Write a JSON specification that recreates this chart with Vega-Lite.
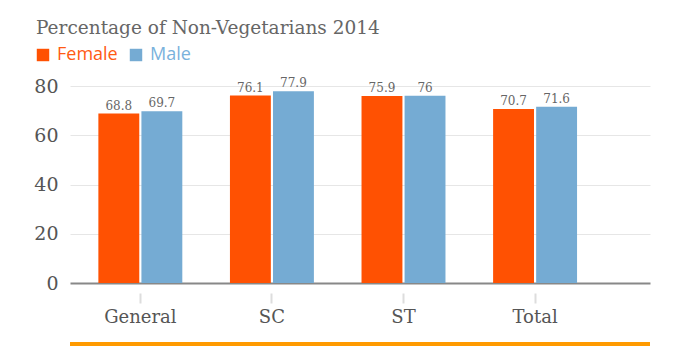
{
  "$schema": "https://vega.github.io/schema/vega-lite/v6.json",
  "width": 580,
  "height": 197,
  "autosize": {"type": "none"},
  "padding": {"left": 70, "top": 86, "right": 49, "bottom": 63},
  "background": "white",
  "config": {"view": {"stroke": null}},
  "title": {
    "text": "Percentage of Non-Vegetarians 2014",
    "anchor": "start",
    "frame": "group",
    "dx": -34,
    "dy": 16,
    "font": "DejaVu Serif",
    "fontSize": 18.5,
    "fontWeight": "normal",
    "color": "#666666",
    "baseline": "alphabetic",
    "offset": 10
  },
  "data": {
    "values": [
      {"category": "General", "gender": "Female", "value": 68.8},
      {"category": "General", "gender": "Male", "value": 69.7},
      {"category": "SC", "gender": "Female", "value": 76.1},
      {"category": "SC", "gender": "Male", "value": 77.9},
      {"category": "ST", "gender": "Female", "value": 75.9},
      {"category": "ST", "gender": "Male", "value": 76},
      {"category": "Total", "gender": "Female", "value": 70.7},
      {"category": "Total", "gender": "Male", "value": 71.6}
    ]
  },
  "encoding": {
    "x": {
      "field": "category",
      "type": "nominal",
      "sort": ["General", "SC", "ST", "Total"],
      "scale": {"paddingInner": 0.362, "paddingOuter": 0.385, "align": 0.28},
      "axis": {
        "title": null,
        "labelAngle": 0,
        "labelFont": "DejaVu Serif",
        "labelFontSize": 18,
        "labelColor": "#555555",
        "labelPadding": 5,
        "domain": false,
        "offset": 10,
        "tickSize": 10,
        "tickColor": "#dddddd",
        "tickWidth": 2,
        "grid": false
      }
    },
    "xOffset": {
      "field": "gender",
      "type": "nominal",
      "sort": ["Female", "Male"],
      "scale": {"paddingInner": 0.05}
    },
    "y": {
      "field": "value",
      "type": "quantitative",
      "scale": {"domain": [0, 80]},
      "axis": {
        "title": null,
        "values": [0, 20, 40, 60, 80],
        "labelFont": "DejaVu Serif",
        "labelFontSize": 19,
        "labelColor": "#555555",
        "labelPadding": 12,
        "ticks": false,
        "domain": false,
        "gridColor": {"condition": {"test": "datum.value === 0", "value": "#888888"}, "value": "#e6e6e6"},
        "gridWidth": {"condition": {"test": "datum.value === 0", "value": 2}, "value": 1}
      }
    }
  },
  "layer": [
    {
      "mark": {"type": "bar"},
      "encoding": {
        "color": {
          "field": "gender",
          "type": "nominal",
          "sort": ["Female", "Male"],
          "scale": {"domain": ["Female", "Male"], "range": ["#ff5102", "#75abd3"]},
          "legend": {
            "title": null,
            "orient": "none",
            "direction": "horizontal",
            "legendX": -36,
            "legendY": -40,
            "symbolType": "square",
            "symbolSize": 155,
            "symbolStrokeWidth": 0,
            "labelFont": "Open Sans",
            "labelFontSize": 18,
            "labelOffset": 5,
            "columnPadding": 9,
            "encode": {
              "labels": {
                "update": {
                  "fill": {"signal": "datum.value === 'Female' ? '#ff5a14' : '#7ab2dc'"}
                }
              }
            }
          }
        }
      }
    },
    {
      "mark": {"type": "text", "baseline": "alphabetic", "dy": -4, "font": "DejaVu Serif", "fontSize": 12, "color": "#666666"},
      "encoding": {"text": {"field": "value", "type": "quantitative"}}
    },
    {
      "mark": {"type": "rule", "color": "#ff9a00", "strokeWidth": 4},
      "encoding": {"y": {"datum": -24.8}, "x": null, "xOffset": null}
    }
  ]
}
